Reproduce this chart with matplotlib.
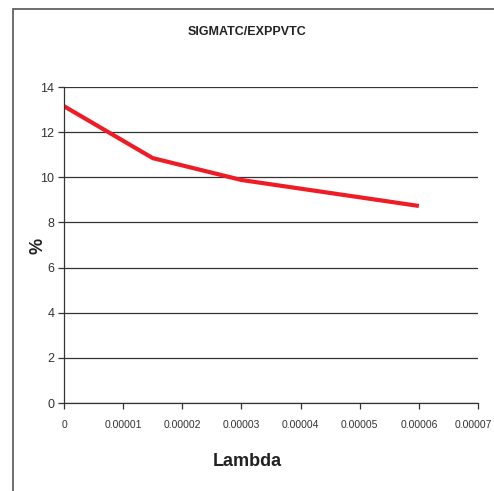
from matplotlib import pyplot as plt
from matplotlib import transforms
from matplotlib.patches import Rectangle

# Values
lambdas = [0, 0.000015, 0.00003, 0.00006]
percents = [13.15, 10.85, 9.88, 8.73]
x_ticks = [0, 0.00001, 0.00002, 0.00003, 0.00004, 0.00005, 0.00006, 0.00007]
x_labels = ["0", "0.00001", "0.00002", "0.00003", "0.00004", "0.00005", "0.00006", "0.00007"]
y_ticks = [0, 2, 4, 6, 8, 10, 12, 14]

plt.rcParams['font.family'] = ['Liberation Sans', 'DejaVu Sans']

fig = plt.figure(figsize=(4.94, 4.91), dpi=100)

# Outer chart border (runs off the right and bottom of the image)
fig.patches.append(Rectangle((13 / 494, -0.1), 1.2, 1 - 9 / 491 + 0.1,
                             transform=fig.transFigure, fill=False,
                             edgecolor="#555555", linewidth=1.2))

ax = fig.add_axes([64 / 494, 1 - 403 / 491, 414 / 494, 316 / 491])
ax.plot(lambdas, percents, color="#ee1c25", linewidth=3, solid_capstyle="butt")

ax.set_xlim(0, 0.00007)
ax.set_ylim(0, 14)
ax.set_xticks(x_ticks)
ax.set_xticklabels(x_labels)
ax.set_yticks(y_ticks)
ax.grid(axis="y", color="#333333", linewidth=0.9)
ax.set_axisbelow(True)

for side in ["top", "right"]:
    ax.spines[side].set_visible(False)
for side in ["left", "bottom"]:
    ax.spines[side].set_color("#333333")
    ax.spines[side].set_linewidth(0.9)

ax.tick_params(axis="both", labelsize=9, length=4, width=0.9, colors="#333333")
ax.tick_params(axis="x", labelsize=7.5, pad=8)
ax.tick_params(axis="y", pad=3)

# Keep the last x label inside the picture
last = ax.get_xticklabels()[-1]
last.set_horizontalalignment("right")
last.set_transform(last.get_transform()
                   + transforms.ScaledTranslation(0.14, 0, fig.dpi_scale_trans))

fig.text(0.5, 1 - 32 / 491, "SIGMATC/EXPPVTC", ha="center", va="center",
         fontsize=9, fontweight="bold", color="#222222")
fig.text(0.5, 1 - 462 / 491, "Lambda", ha="center", va="center",
         fontsize=13, fontweight="bold", color="#222222")
fig.text(38 / 494, 1 - 246 / 491, "%", ha="center", va="center", rotation=90,
         fontsize=13, fontweight="bold", color="#222222")

fig.savefig("out.png", dpi=100)
